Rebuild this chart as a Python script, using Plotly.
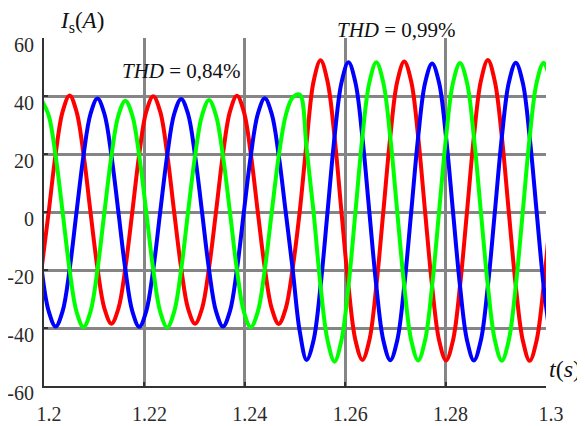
import plotly.graph_objects as go

# sample times (s)
t = [1.19954, 1.20093, 1.20232, 1.20371, 1.20510, 1.20648, 1.20787, 1.20926, 1.21065, 1.21204,
     1.21343, 1.21482, 1.21621, 1.21759, 1.21898, 1.22037, 1.22176, 1.22315, 1.22454, 1.22593,
     1.22732, 1.22870, 1.23009, 1.23148, 1.23287, 1.23426, 1.23565, 1.23704, 1.23843, 1.23981,
     1.24120, 1.24259, 1.24398, 1.24537, 1.24676, 1.24815, 1.24954, 1.25093, 1.25231, 1.25370,
     1.25509, 1.25648, 1.25787, 1.25926, 1.26065, 1.26204, 1.26342, 1.26481, 1.26620, 1.26759,
     1.26898, 1.27037, 1.27176, 1.27315, 1.27453, 1.27592, 1.27731, 1.27870, 1.28009, 1.28148,
     1.28287, 1.28426, 1.28564, 1.28703, 1.28842, 1.28981, 1.29120, 1.29259, 1.29398, 1.29537,
     1.29675, 1.29814, 1.29953, 1.30092]

# phase currents (A)
i_red = [-19.3, 0, 20, 34.6, 40.2, 34.6, 20, 0, -19.3, -33.3, -38.5, -33.3,
         -19.3, 0, 20, 34.6, 39.9, 34.6, 20, 0, -19.3, -33.3, -38.5, -33.3,
         -19.3, 0, 20, 34.6, 40.1, 34.6, 20, 0, -19.3, -33.3, -38.6, -33.3,
         -19.3,
         0, 24, 45, 52.3, 45, 26, 0, -25.5, -44.2, -51, -44.2,
         -25.5, 0, 26, 45, 51.9, 45, 26, 0, -25.5, -44.2, -51.2, -44.2,
         -25.5, 0, 26, 45.2, 52.4, 45, 26, 0, -25.5, -44.2, -51.3, -44.2,
         -25.5, 0]

i_blue = [-19.8, -34.2, -39.5, -34.2, -19.8, 0, 19.5, 33.8, 39.1, 33.8, 19.5, 0,
          -19.8, -34.2, -39.6, -34.2, -19.8, 0, 19.5, 33.8, 39.0, 33.8, 19.5, 0,
          -19.8, -34.2, -39.5, -34.2, -19.8, 0, 19.5, 33.8, 39.2, 33.8, 19.5, 0,
          -19.8,
          -41, -51, -44.2, -25.5, 0, 25.8, 44.6, 51.6, 44.6, 25.8, 0,
          -25.5, -44.2, -51.1, -44.2, -25.5, 0, 25.8, 44.6, 51.2, 44.6, 25.8, 0,
          -25.5, -44.2, -51.2, -44.2, -25.5, 0, 25.8, 44.6, 51.5, 44.6, 25.8, 0,
          -25.5, -44.2]

i_green = [38.5, 33.3, 19.3, 0, -19.9, -34.4, -39.7, -34.4, -19.9, 0, 19.3, 33.3,
           38.4, 33.3, 19.3, 0, -19.9, -34.4, -39.8, -34.4, -19.9, 0, 19.3, 33.3,
           38.6, 33.3, 19.3, 0, -19.9, -34.4, -39.7, -34.4, -19.9, 0, 19.3, 33.3,
           39.5,
           40.5, 22, 0, -25.5, -44.2, -51.6, -44.2, -25.5, 0, 25.8, 44.6,
           51.6, 44.6, 25.8, 0, -25.5, -44.2, -51.2, -44.2, -25.5, 0, 25.8, 44.6,
           51.4, 44.6, 25.8, 0, -25.5, -44.2, -51.3, -44.2, -25.5, 0, 25.8, 44.6,
           51.5, 44.6]

x_ticks = [1.2, 1.22, 1.24, 1.26, 1.28, 1.3]
x_ticklabels = ["1.2", "1.22", "1.24", "1.26", "1.28", "1.3"]
y_ticks = [-60, -40, -20, 0, 20, 40, 60]
y_ticklabels = ["-60", "-40", "-20", "0", "20", "40", "60"]

FONT = "Liberation Serif"
tickfont = dict(family=FONT, size=20, color="#2a2a2a")

fig = go.Figure()
for vals, col in [(i_red, "#ff0000"), (i_blue, "#0000ff"), (i_green, "#00ff00")]:
    fig.add_trace(go.Scatter(x=t, y=vals, mode="lines",
                             line=dict(color=col, width=4, shape="spline", smoothing=1),
                             showlegend=False, hoverinfo="skip"))

# page body has an 8px margin: figure is 577x418 placed at (8, 8)
fig.update_layout(
    width=577, height=418,
    margin=dict(l=36, r=39, t=30, b=40, autoexpand=False),
    plot_bgcolor="white", paper_bgcolor="white",
    showlegend=False,
    font=dict(family=FONT),
    annotations=[
        dict(text="<i>I</i><sub>s</sub>(<i>A</i>)", xref="paper", yref="paper",
             x=0, y=1, xanchor="center", yanchor="bottom", xshift=38, yshift=0,
             showarrow=False, font=dict(family=FONT, size=23, color="#111")),
        dict(text="<i>t</i>(<i>s</i>)", xref="paper", yref="paper",
             x=1, y=0, xanchor="left", yanchor="middle", xshift=1, yshift=17,
             showarrow=False, font=dict(family=FONT, size=24, color="#111")),
        dict(text="<i>THD</i> = 0,84%", xref="x", yref="y", x=1.2273, y=48.5,
             showarrow=False, font=dict(family=FONT, size=21, color="#111")),
        dict(text="<i>THD</i> = 0,99%", xref="x", yref="paper", x=1.2703, y=1.0,
             yanchor="bottom", yshift=-6,
             showarrow=False, font=dict(family=FONT, size=21, color="#111")),
    ],
)

fig.update_xaxes(range=[1.2, 1.3], tickmode="array", tickvals=x_ticks, ticktext=x_ticklabels,
                 showgrid=True, gridcolor="#858585", gridwidth=2.5,
                 showline=True, linecolor="#333333", linewidth=2,
                 ticks="inside", ticklen=4, tickwidth=2, tickcolor="#333333",
                 zeroline=False, tickfont=tickfont, ticklabelshift=5, ticklabelstandoff=9,
                 automargin=False)
fig.update_yaxes(range=[-60, 60], tickmode="array", tickvals=y_ticks, ticktext=y_ticklabels,
                 showgrid=True, gridcolor="#858585", gridwidth=2.5,
                 showline=True, linecolor="#333333", linewidth=2,
                 ticks="inside", ticklen=4, tickwidth=2, tickcolor="#333333",
                 zeroline=False, tickfont=tickfont, ticklabelshift=7, ticklabelstandoff=4,
                 automargin=False)

fig.write_html("out.html")
